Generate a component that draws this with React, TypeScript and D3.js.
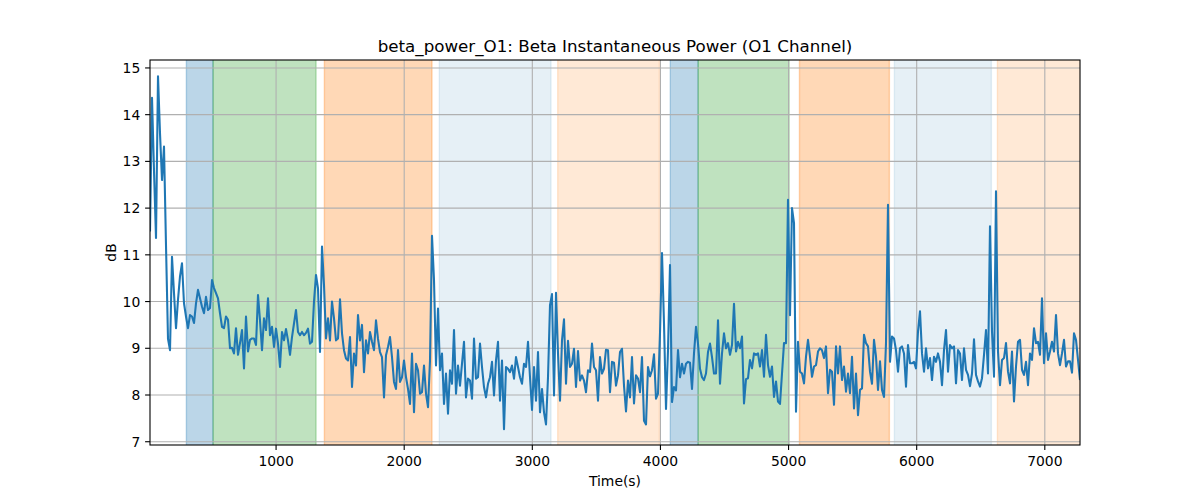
import * as d3 from 'd3'

// beta power samples (dB) at a fixed sampling period
const power = [
    11.5, 14.36, 12.8, 11.36, 14.82, 13.6, 12.6, 13.32, 11.2, 9.2,
    8.96, 10.96, 10.18, 9.43, 10.04, 10.54, 10.82, 9.96, 9.68, 9.43,
    9.71, 9.68, 9.54, 9.96, 10.25, 10.07, 9.89, 9.75, 10.1, 9.82,
    9.86, 10.46, 10.29, 10.18, 10.07, 9.75, 9.46, 9.43, 9.68, 9.61,
    9.0, 9.01, 8.89, 9.43, 8.86, 9.11, 9.39, 8.57, 9.68, 8.93,
    9.18, 9.21, 9.21, 9.07, 10.14,
    9.6, 8.96, 9.64, 9.39, 10.07, 9.28, 9.46, 9.03, 9.42, 9.1,
    8.6, 9.35, 9.17, 9.41, 9.17, 8.86, 9.24, 9.53, 9.82, 9.35,
    9.28, 9.35, 9.28, 9.33, 9.42, 9.1, 9.14, 10.0, 10.57, 10.28,
    8.92, 11.18, 10.35, 9.21, 9.64, 9.17, 10.0, 9.64, 9.17, 9.21,
    10.05, 9.32, 8.96, 8.78, 8.74, 9.24, 8.17, 8.89, 8.63, 9.71,
    9.17, 9.5, 8.49, 9.17, 8.89, 9.35, 9.14, 8.96, 9.6,
    9.2, 8.92, 8.81, 7.95, 8.85, 9.03, 9.24, 8.81, 8.28, 8.13,
    8.96, 8.28, 8.38, 8.74, 8.38, 8.13, 7.81, 8.89, 7.63, 8.67,
    8.53, 8.03, 8.06, 8.63, 8.03, 7.74, 8.74, 11.41, 10.46, 8.63,
    9.85, 8.53, 8.89, 7.81, 8.46, 7.6, 8.53, 8.24, 9.39, 8.03,
    8.63, 8.2, 8.67, 9.14, 7.95, 8.35, 8.31, 7.92, 9.21, 8.35,
    8.38, 9.1, 8.6, 8.17, 7.95, 8.24, 8.38, 8.71, 7.99, 8.74,
    9.14, 7.88, 8.74, 7.27, 8.6, 8.56, 8.49, 8.63, 8.35, 8.81,
    8.6, 8.38, 8.24, 8.67, 8.6, 9.14,
    8.38, 7.68, 8.6, 7.88, 8.92, 7.63, 8.13, 7.63, 7.37, 8.38,
    9.92, 10.16, 7.99, 10.19, 8.89, 7.88, 9.17, 9.62, 8.24, 9.16,
    8.6, 8.67, 8.99, 8.17, 8.94, 8.31, 8.42, 8.31, 8.06, 8.53,
    8.49, 9.1, 8.6, 8.53, 7.88, 8.81, 8.46, 8.56, 8.97, 8.96,
    8.06, 8.71, 8.69, 8.2, 8.42, 8.92, 8.99, 8.2, 7.65, 8.31,
    7.95, 8.81, 7.82, 8.42, 8.35, 8.06, 8.81, 7.45, 7.37, 8.6,
    8.4, 8.53, 8.87, 7.92, 8.03, 9.32, 11.04, 9.53, 7.7, 8.96,
    10.78, 7.85, 8.17, 8.1, 8.96, 8.38, 8.67, 8.46, 8.67, 8.71,
    8.69, 8.13, 8.89, 9.46, 9.1, 8.56, 8.38, 8.32, 8.46, 8.92,
    9.1, 8.81, 8.46, 8.46, 9.6, 8.24,
    8.89, 9.32, 9.0, 9.11, 8.86, 9.07, 9.95, 8.93, 9.14, 9.0,
    9.25, 7.82, 8.34, 8.36, 8.75, 8.57, 8.89, 8.86, 8.89, 8.61,
    8.96, 8.39, 9.29, 8.64, 8.39, 8.61, 7.96, 8.29, 7.86, 7.81,
    8.46, 9.11, 9.11, 12.18, 9.71, 12.0, 11.68, 7.64, 9.14, 8.5,
    8.46, 8.25, 8.82, 9.18, 8.82, 8.39, 8.61, 8.64, 8.93, 9.0,
    8.96, 8.79, 9.04, 8.04, 8.54, 8.5, 7.79, 9.04, 8.46, 9.04,
    8.32, 8.61, 8.07, 8.46, 8.04, 8.82, 7.71, 8.46, 7.57, 8.11,
    8.14, 9.29, 9.11, 9.04, 8.5, 8.24, 9.18, 8.82, 8.11, 8.72,
    8.11, 7.96, 9.11, 12.07,
    8.71, 9.25, 9.21, 8.96, 8.5, 9.0, 9.04, 8.89, 8.18, 9.07,
    8.68, 8.68, 8.71, 8.57, 9.36, 9.79, 8.89, 8.5, 9.0, 8.57,
    8.79, 8.32, 8.82, 8.71, 8.89, 8.71, 8.21, 8.96, 9.39, 8.5,
    9.07, 9.0, 9.04, 8.25, 8.96, 8.89, 8.32, 9.0, 8.54, 8.43,
    8.19, 8.46, 9.19, 8.43, 8.29, 8.18, 8.36, 8.86, 9.39, 8.46,
    11.61, 9.36, 8.39, 12.36, 8.93, 8.21, 8.75, 8.79, 9.11, 8.5,
    8.25, 8.93, 7.86, 8.61, 9.14, 9.18, 8.54, 8.43, 8.71, 8.21,
    8.89, 8.75, 9.43, 9.11, 9.14, 8.86, 10.07, 8.68, 9.32, 8.75,
    8.93, 9.14, 8.93, 9.71, 8.89, 8.64, 8.89, 9.18, 8.61, 8.72,
    8.72, 8.48, 9.32, 9.18, 8.75, 8.32,
]
const sampleStart = 16 // s
const samplePeriod = 15.61 // s

// shaded stage spans
const spanStarts = [300, 508, 1377, 2274, 3198, 4077, 4294, 5085, 5826, 6630]
const spanEnds = [508, 1312, 2217, 3146, 3992, 4294, 5004, 5787, 6583, 7280]
const spanColors = [
    '#1f77b4', '#2ca02c', '#ff7f0e', '#1f77b4', '#ff7f0e',
    '#1f77b4', '#2ca02c', '#ff7f0e', '#1f77b4', '#ff7f0e',
]
const spanAlphas = [0.3, 0.3, 0.3, 0.115, 0.17, 0.3, 0.3, 0.3, 0.115, 0.17]

const xTicks = [1000, 2000, 3000, 4000, 5000, 6000, 7000]
const yTicks = [7, 8, 9, 10, 11, 12, 13, 14, 15]
const yLimits = [6.93, 15.17]

const title = 'beta_power_O1: Beta Instantaneous Power (O1 Channel)'

const W = 1200
const H = 500
const margin = { top: 60, right: 120, bottom: 55, left: 150 }
const font = '"DejaVu Sans", sans-serif'

const App = () => {
    const points = power.map((v, i) => ({ t: sampleStart + i * samplePeriod, v }))
    const tEnd = points[points.length - 1].t

    const x = d3
        .scaleLinear()
        .domain([sampleStart, tEnd])
        .range([margin.left, W - margin.right])
    const y = d3
        .scaleLinear()
        .domain(yLimits)
        .range([H - margin.bottom, margin.top])

    const line = d3
        .line<{ t: number; v: number }>()
        .x(d => x(d.t))
        .y(d => y(d.v))

    const left = margin.left
    const right = W - margin.right
    const top = margin.top
    const bottom = H - margin.bottom

    return (
        <svg
            width={W}
            height={H}
            style={{ position: 'absolute', left: 0, top: 0, background: '#fff' }}
            fontFamily={font}
        >
            <defs>
                <clipPath id='plot'>
                    <rect x={left} y={top} width={right - left} height={bottom - top} />
                </clipPath>
            </defs>

            <g clipPath='url(#plot)'>
                {spanStarts.map((s, i) => (
                    <rect
                        key={i}
                        x={x(s)}
                        y={top - 2}
                        width={x(spanEnds[i]) - x(s)}
                        height={bottom - top + 4}
                        fill={spanColors[i]}
                        fillOpacity={spanAlphas[i]}
                        stroke={spanColors[i]}
                        strokeOpacity={spanAlphas[i]}
                        strokeWidth={1.4}
                    />
                ))}

                {xTicks.map(t => (
                    <line key={'gx' + t} x1={x(t)} x2={x(t)} y1={top} y2={bottom} stroke='#b0b0b0' strokeWidth={1.1} />
                ))}
                {yTicks.map(t => (
                    <line key={'gy' + t} x1={left} x2={right} y1={y(t)} y2={y(t)} stroke='#b0b0b0' strokeWidth={1.1} />
                ))}

                <path
                    d={line(points) ?? ''}
                    fill='none'
                    stroke='#1f77b4'
                    strokeWidth={2.08}
                    strokeLinejoin='round'
                />
            </g>

            <rect
                x={left}
                y={top}
                width={right - left}
                height={bottom - top}
                fill='none'
                stroke='#000'
                strokeWidth={1.1}
            />

            {xTicks.map(t => (
                <g key={'tx' + t}>
                    <line x1={x(t)} x2={x(t)} y1={bottom} y2={bottom + 4.9} stroke='#000' strokeWidth={1.1} />
                    <text x={x(t)} y={bottom + 20.5} textAnchor='middle' fontSize={13.9} fill='#000'>
                        {t}
                    </text>
                </g>
            ))}
            {yTicks.map(t => (
                <g key={'ty' + t}>
                    <line x1={left - 4.9} x2={left} y1={y(t)} y2={y(t)} stroke='#000' strokeWidth={1.1} />
                    <text
                        x={left - 9.7}
                        y={y(t)}
                        textAnchor='end'
                        dominantBaseline='central'
                        fontSize={13.9}
                        fill='#000'
                    >
                        {t}
                    </text>
                </g>
            ))}

            <text x={(left + right) / 2} y={top - 8.5} textAnchor='middle' fontSize={16.7} fill='#000'>
                {title}
            </text>
            <text x={(left + right) / 2} y={486} textAnchor='middle' fontSize={13.9} fill='#000'>
                Time(s)
            </text>
            <text
                transform={`translate(111, ${(top + bottom) / 2}) rotate(-90)`}
                textAnchor='middle'
                dominantBaseline='central'
                fontSize={13.9}
                fill='#000'
            >
                dB
            </text>
        </svg>
    )
}

export default App
